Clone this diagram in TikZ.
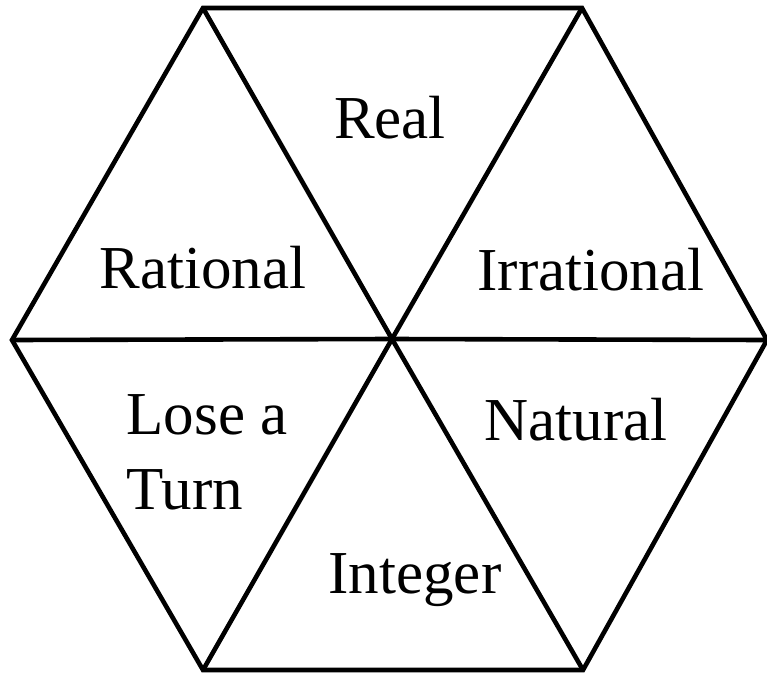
\documentclass[tikz,border=0pt]{standalone}
\usepackage{fontspec}
\setmainfont{Liberation Serif}
\usetikzlibrary{positioning}

\begin{document}
\begin{tikzpicture}[
  x=1pt,y=-1pt,
  edge/.style={line width=4.6pt,line join=miter,draw=black},
  label/.style={font=\fontsize{61}{75}\selectfont,align=left,inner sep=0pt}
]
\useasboundingbox (0,0) rectangle (767,677);
% hexagon corners and centre
\coordinate (tl) at (203,8);
\coordinate (tr) at (582,8);
\coordinate (r) at (767,340);
\coordinate (br) at (583,670);
\coordinate (bl) at (203,670);
\coordinate (l) at (12,340);
\coordinate (c) at (392,339);

\draw[edge] (tl)--(tr)--(r)--(br)--(bl)--(l)--cycle;
\draw[edge] (l)--(c)--(r);
\draw[edge] (tl)--(c)--(br);
\draw[edge] (tr)--(c)--(bl);

\node[label] (real) at (390,118) {Real};
\node[label] (rational) at (203,268) {Rational};
\node[label] (irrational) at (591,270) {Irrational};
\node[label] (lose) at (207,452) {Lose a\\Turn};
\node[label] (natural) at (576,420) {Natural};
\node[label] (integer) at (415,580) {Integer};
\end{tikzpicture}
\end{document}
